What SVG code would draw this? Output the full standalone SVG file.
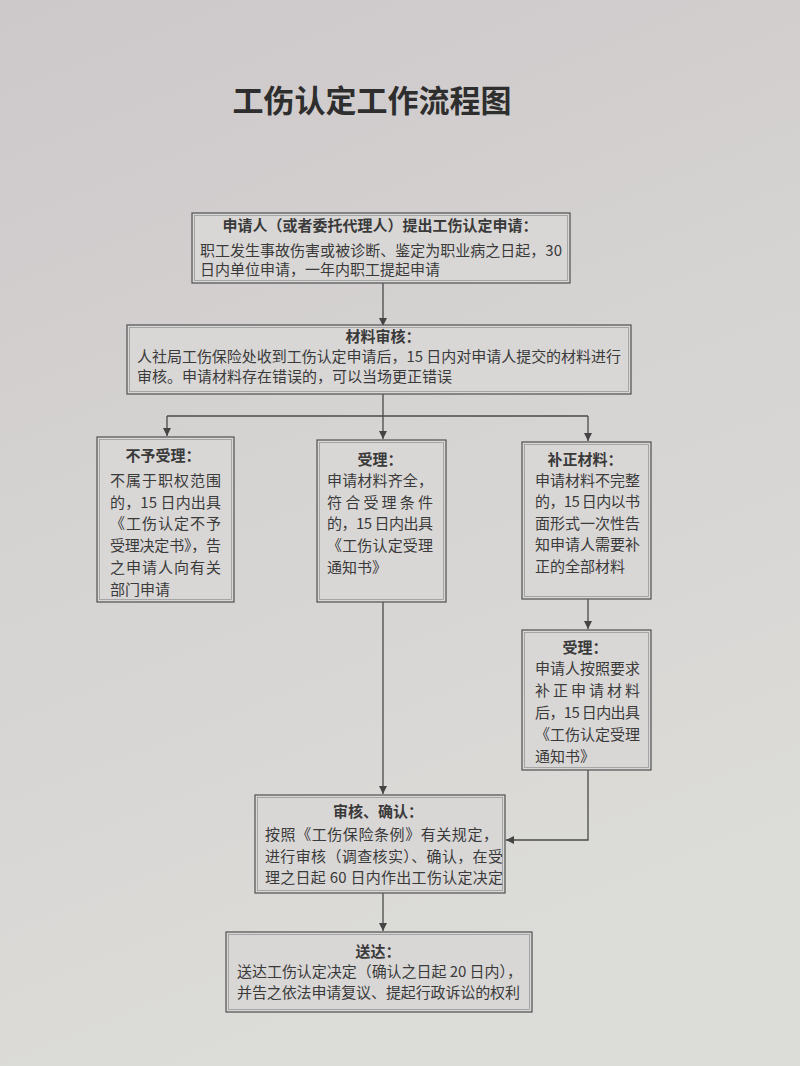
<svg xmlns="http://www.w3.org/2000/svg" width="800" height="1066" viewBox="0 0 800 1066">
<defs>
<linearGradient id="bg" x1="0" y1="0" x2="0.3" y2="1">
<stop offset="0" stop-color="#cdc8c9"/>
<stop offset="0.5" stop-color="#d6d3d3"/>
<stop offset="1" stop-color="#dcdcd8"/>
</linearGradient>
<marker id="ah" viewBox="0 0 10 10" refX="10" refY="5" markerWidth="8" markerHeight="8" markerUnits="userSpaceOnUse" orient="auto">
<path d="M0,0 L10,5 L0,10 z" fill="#444"/>
</marker>
<style>
.box{fill:#d9d7d6;stroke:#5a5a5a;stroke-width:1.3}
.inner{fill:none;stroke:#9a9a9a;stroke-width:0.8}
.t{font-family:"Noto Sans CJK SC","Noto Sans",sans-serif;font-size:15px;fill:#3a3a3a}
.h{font-weight:bold;text-anchor:middle}
.title{font-family:"Noto Sans CJK SC",sans-serif;font-size:31px;font-weight:bold;fill:#2e2e2e;text-anchor:middle}
.c{fill:none;stroke:#4a4a4a;stroke-width:1.3}
</style>
</defs>
<rect x="0" y="0" width="800" height="1066" fill="url(#bg)"/>
<text class="title" x="372" y="112">工伤认定工作流程图</text>

<g id="connectors">
<path class="c" d="M383,283 V326" marker-end="url(#ah)"/>
<path class="c" d="M383,394 V416"/>
<path class="c" d="M167,416 H588"/>
<path class="c" d="M167,416 V436" marker-end="url(#ah)"/>
<path class="c" d="M383,416 V439" marker-end="url(#ah)"/>
<path class="c" d="M588,416 V441" marker-end="url(#ah)"/>
<path class="c" d="M588,599 V629" marker-end="url(#ah)"/>
<path class="c" d="M383,602 V794" marker-end="url(#ah)"/>
<path class="c" d="M588,770 V840 H506" marker-end="url(#ah)"/>
<path class="c" d="M383,893 V931" marker-end="url(#ah)"/>
</g>

<g id="n1">
<rect class="box" x="192" y="213" width="378" height="70"/>
<rect class="inner" x="194.5" y="215.5" width="373" height="65"/>
<text class="t h" x="380" y="231">申请人（或者委托代理人）提出工伤认定申请：</text>
<text class="t" x="200" y="256" textLength="362" lengthAdjust="spacing">职工发生事故伤害或被诊断、鉴定为职业病之日起，30</text>
<text class="t" x="200" y="275">日内单位申请，一年内职工提起申请</text>
</g>

<g id="n2">
<rect class="box" x="127" y="325" width="504" height="69"/>
<rect class="inner" x="129.5" y="327.5" width="499" height="64"/>
<text class="t h" x="383" y="342">材料审核：</text>
<text class="t" x="137" y="362" textLength="484" lengthAdjust="spacing">人社局工伤保险处收到工伤认定申请后，15 日内对申请人提交的材料进行</text>
<text class="t" x="137" y="382">审核。申请材料存在错误的，可以当场更正错误</text>
</g>

<g id="n3">
<rect class="box" x="97" y="437" width="137" height="165"/>
<rect class="inner" x="99.5" y="439.5" width="132" height="160"/>
<text class="t h" x="163" y="461">不予受理：</text>
<text class="t" x="110" y="486" textLength="111" lengthAdjust="spacing">不属于职权范围</text>
<text class="t" x="110" y="508" textLength="111" lengthAdjust="spacing">的，15 日内出具</text>
<text class="t" x="110" y="529" textLength="111" lengthAdjust="spacing">《工伤认定不予</text>
<text class="t" x="110" y="551" textLength="111" lengthAdjust="spacing">受理决定书》，告</text>
<text class="t" x="110" y="573" textLength="111" lengthAdjust="spacing">之申请人向有关</text>
<text class="t" x="110" y="595">部门申请</text>
</g>

<g id="n4">
<rect class="box" x="317" y="440" width="129" height="162"/>
<rect class="inner" x="319.5" y="442.5" width="124" height="157"/>
<text class="t h" x="380" y="465">受理：</text>
<text class="t" x="327" y="486" textLength="106" lengthAdjust="spacing">申请材料齐全，</text>
<text class="t" x="327" y="508" textLength="106" lengthAdjust="spacing">符合受理条件</text>
<text class="t" x="327" y="529" textLength="106" lengthAdjust="spacing">的，15 日内出具</text>
<text class="t" x="327" y="551" textLength="106" lengthAdjust="spacing">《工伤认定受理</text>
<text class="t" x="327" y="573">通知书》</text>
</g>

<g id="n5">
<rect class="box" x="522" y="442" width="129" height="157"/>
<rect class="inner" x="524.5" y="444.5" width="124" height="152"/>
<text class="t h" x="585" y="465">补正材料：</text>
<text class="t" x="535" y="486" textLength="105" lengthAdjust="spacing">申请材料不完整</text>
<text class="t" x="535" y="507" textLength="105" lengthAdjust="spacing">的，15 日内以书</text>
<text class="t" x="535" y="529" textLength="105" lengthAdjust="spacing">面形式一次性告</text>
<text class="t" x="535" y="550" textLength="105" lengthAdjust="spacing">知申请人需要补</text>
<text class="t" x="535" y="572">正的全部材料</text>
</g>

<g id="n6">
<rect class="box" x="522" y="630" width="129" height="140"/>
<rect class="inner" x="524.5" y="632.5" width="124" height="135"/>
<text class="t h" x="585" y="653">受理：</text>
<text class="t" x="535" y="674" textLength="105" lengthAdjust="spacing">申请人按照要求</text>
<text class="t" x="535" y="696" textLength="105" lengthAdjust="spacing">补正申请材料</text>
<text class="t" x="535" y="718" textLength="105" lengthAdjust="spacing">后，15 日内出具</text>
<text class="t" x="535" y="740" textLength="105" lengthAdjust="spacing">《工伤认定受理</text>
<text class="t" x="535" y="762">通知书》</text>
</g>

<g id="n7">
<rect class="box" x="255" y="795" width="250" height="98"/>
<rect class="inner" x="257.5" y="797.5" width="245" height="93"/>
<text class="t h" x="378" y="817">审核、确认：</text>
<text class="t" x="265" y="840" textLength="233" lengthAdjust="spacing">按照《工伤保险条例》有关规定，</text>
<text class="t" x="265" y="862" textLength="238" lengthAdjust="spacing">进行审核（调查核实）、确认，在受</text>
<text class="t" x="265" y="883" textLength="238" lengthAdjust="spacing">理之日起 60 日内作出工伤认定决定</text>
</g>

<g id="n8">
<rect class="box" x="226" y="932" width="306" height="80"/>
<rect class="inner" x="228.5" y="934.5" width="301" height="75"/>
<text class="t h" x="378" y="957">送达：</text>
<text class="t" x="237" y="977" textLength="285" lengthAdjust="spacing">送达工伤认定决定（确认之日起 20 日内），</text>
<text class="t" x="237" y="998" textLength="283" lengthAdjust="spacing">并告之依法申请复议、提起行政诉讼的权利</text>
</g>
</svg>
